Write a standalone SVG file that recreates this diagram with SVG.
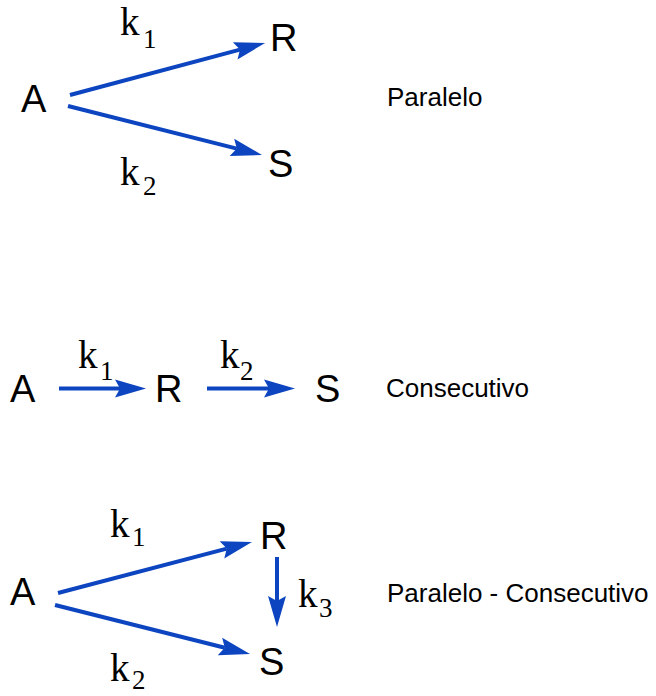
<svg xmlns="http://www.w3.org/2000/svg" width="656" height="696" viewBox="0 0 656 696">
<style>
.sp{font-family:"Liberation Sans",Arial,sans-serif;font-size:38px;fill:#000}
.k{font-family:"Liberation Serif","Times New Roman",serif;font-size:39px;fill:#000}
.sub{font-family:"Liberation Serif","Times New Roman",serif;font-size:27px;fill:#000}
.lbl{font-family:"Liberation Sans",Arial,sans-serif;font-size:26px;fill:#000}
.ar{stroke:#0D45C0;stroke-width:4;fill:none;marker-end:url(#ah)}
</style>
<defs>
<marker id="ah" markerUnits="userSpaceOnUse" markerWidth="40" markerHeight="24" viewBox="-2 -12 36 24" refX="5" refY="0" orient="auto">
<path d="M0,-9 L31,0 L0,9 L5,0 Z" fill="#0D45C0"/>
</marker>
</defs>
<rect width="656" height="696" fill="#fff"/>
<g id="connectors">
<line class="ar" x1="70" y1="95" x2="240" y2="49.6"/>
<line class="ar" x1="68" y1="106" x2="236.8" y2="148.6"/>
<line class="ar" x1="59" y1="388.5" x2="120" y2="388.5"/>
<line class="ar" x1="207" y1="388.5" x2="269" y2="388.5"/>
<line class="ar" x1="58" y1="593" x2="226.8" y2="548.6"/>
<line class="ar" x1="55" y1="605" x2="224.8" y2="647.7"/>
<line class="ar" x1="277" y1="557" x2="277" y2="601"/>
<text class="k" x="120" y="35">k</text><text class="sub" x="143" y="48">1</text>
<text class="k" x="120" y="185">k</text><text class="sub" x="143" y="195">2</text>
<text class="k" x="78" y="368">k</text><text class="sub" x="100" y="380">1</text>
<text class="k" x="220" y="368">k</text><text class="sub" x="240" y="380">2</text>
<text class="k" x="110" y="537">k</text><text class="sub" x="132" y="546">1</text>
<text class="k" x="110" y="681">k</text><text class="sub" x="132" y="689">2</text>
<text class="k" x="298" y="607">k</text><text class="sub" x="319" y="617">3</text>
</g>
<g id="p-A"><text class="sp" x="21" y="112">A</text></g>
<g id="p-R"><text class="sp" x="270" y="51">R</text></g>
<g id="p-S"><text class="sp" x="268" y="177">S</text></g>
<g id="p-label"><text class="lbl" x="387" y="106">Paralelo</text></g>
<g id="c-A"><text class="sp" x="10" y="402">A</text></g>
<g id="c-R"><text class="sp" x="155" y="402">R</text></g>
<g id="c-S"><text class="sp" x="315" y="402">S</text></g>
<g id="c-label"><text class="lbl" x="386" y="397">Consecutivo</text></g>
<g id="pc-A"><text class="sp" x="10" y="605">A</text></g>
<g id="pc-R"><text class="sp" x="260" y="549">R</text></g>
<g id="pc-S"><text class="sp" x="259" y="675">S</text></g>
<g id="pc-label"><text class="lbl" x="387" y="602">Paralelo - Consecutivo</text></g>
</svg>
